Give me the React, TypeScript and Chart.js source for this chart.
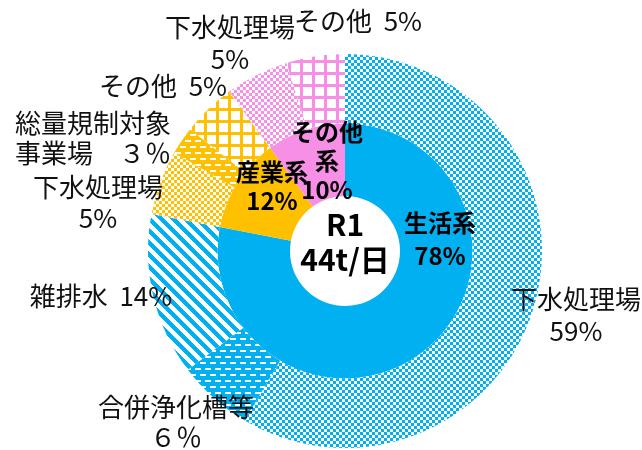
import { useEffect, useRef } from "react";
import { Chart, registerables } from "chart.js";

Chart.register(...registerables);

// ---- data ----
const innerCategories = ["生活系", "産業系", "その他系"];
const innerValues = [78, 12, 10];
const innerLabelLines = [["生活系", "78%"], ["産業系", "12%"], ["その他", "系", "10%"]];

const outerCategories = [
  "下水処理場",
  "合併浄化槽等",
  "雑排水",
  "下水処理場",
  "総量規制対象事業場",
  "その他",
  "下水処理場",
  "その他",
];
const outerValues = [58.5, 6.2, 13.3, 5.3, 2.3, 4.4, 5.2, 4.8];
const outerLabelLines = [
  ["下水処理場", "59%"],
  ["合併浄化槽等", "６％"],
  ["雑排水  14%"],
  ["下水処理場", "5%"],
  ["総量規制対象", "事業場　３％"],
  ["その他  5%"],
  ["下水処理場", "5%"],
  ["その他  5%"],
];
const centerLines = ["R1", "44t/日"];

// ---- layout / style ----
const BLUE = "#00B0F0";
const ORANGE = "#FFC000";
const PINK = "#F78FE6";
const FONT = "'Noto Sans CJK JP', 'Noto Sans', sans-serif";

// label anchor offsets relative to chart centre, plus line height
const outerLabelPos = [
  { dx: 231, dy: 48, lh: 32 },
  { dx: -169, dy: 156, lh: 30 },
  { dx: -244, dy: 45, lh: 30 },
  { dx: -247, dy: -64, lh: 31 },
  { dx: -252, dy: -128, lh: 30 },
  { dx: -182, dy: -165, lh: 30 },
  { dx: -115, dy: -224, lh: 32 },
  { dx: 13, dy: -230, lh: 30 },
];
const innerLabelPos = [
  { dx: 95, dy: -28, lh: 33 },
  { dx: -73, dy: -79, lh: 29 },
  { dx: -18, dy: -119, lh: 29 },
];
const centerPos = { dx: 0, dy: -26, lh: 35 };

function tile(w: number, h: number, draw: (c: CanvasRenderingContext2D) => void) {
  const cv = document.createElement("canvas");
  cv.width = w;
  cv.height = h;
  const c = cv.getContext("2d")!;
  draw(c);
  return c.createPattern(cv, "repeat")!;
}

function checker(color: string) {
  return tile(6, 6, (c) => {
    c.fillStyle = "#fff";
    c.fillRect(0, 0, 6, 6);
    c.fillStyle = color;
    c.fillRect(0, 0, 3, 3);
    c.fillRect(3, 3, 3, 3);
  });
}

function dashes(color: string) {
  return tile(10, 12, (c) => {
    c.fillStyle = color;
    c.fillRect(0, 0, 10, 12);
    c.fillStyle = "#fff";
    c.fillRect(0, 2, 6, 2);
    c.fillRect(5, 8, 5, 2);
    c.fillRect(0, 8, 1, 2);
  });
}

function stripes(color: string) {
  return tile(12, 12, (c) => {
    c.fillStyle = "#fff";
    c.fillRect(0, 0, 12, 12);
    c.fillStyle = color;
    for (let y = 0; y < 12; y++) {
      for (let x = 0; x < 12; x++) {
        if ((((x - y) % 12) + 12) % 12 < 6) c.fillRect(x, y, 1, 1);
      }
    }
  });
}

function grid(color: string) {
  return tile(12, 12, (c) => {
    c.fillStyle = "#fff";
    c.fillRect(0, 0, 12, 12);
    c.fillStyle = color;
    c.fillRect(0, 0, 3, 12);
    c.fillRect(0, 0, 12, 3);
  });
}

function drawLines(
  ctx: CanvasRenderingContext2D,
  lines: string[],
  x: number,
  y: number,
  lh: number
) {
  lines.forEach((t, i) => ctx.fillText(t, x, y + i * lh));
}

const labelPlugin = {
  id: "ringLabels",
  afterDatasetsDraw(chart: any) {
    const ctx: CanvasRenderingContext2D = chart.ctx;
    const arc = chart.getDatasetMeta(0).data[0];
    if (!arc) return;
    const cx = arc.x;
    const cy = arc.y;
    ctx.save();
    ctx.textAlign = "center";
    ctx.textBaseline = "middle";

    ctx.fillStyle = "#111";
    ctx.font = `400 26px ${FONT}`;
    outerLabelLines.forEach((lines, i) => {
      const p = outerLabelPos[i];
      drawLines(ctx, lines, cx + p.dx, cy + p.dy, p.lh);
    });

    ctx.fillStyle = "#000";
    ctx.font = `700 24px ${FONT}`;
    innerLabelLines.forEach((lines, i) => {
      const p = innerLabelPos[i];
      drawLines(ctx, lines, cx + p.dx, cy + p.dy, p.lh);
    });

    ctx.font = `700 30px ${FONT}`;
    drawLines(ctx, centerLines, cx + centerPos.dx, cy + centerPos.dy, centerPos.lh);
    ctx.restore();
  },
};

export default function App() {
  const ref = useRef<HTMLCanvasElement | null>(null);

  useEffect(() => {
    if (!ref.current) return;
    const outerFills = [
      checker(BLUE),
      dashes(BLUE),
      stripes(BLUE),
      checker(ORANGE),
      dashes(ORANGE),
      grid(ORANGE),
      checker(PINK),
      grid(PINK),
    ];
    const chart = new Chart(ref.current, {
      type: "doughnut",
      data: {
        labels: outerCategories,
        datasets: [
          {
            label: "内訳",
            data: outerValues,
            backgroundColor: outerFills as any,
            borderWidth: 0,
            weight: 70,
          } as any,
          {
            label: "系統",
            data: innerValues,
            backgroundColor: [BLUE, ORANGE, PINK],
            borderWidth: 0,
            weight: 73,
            labels: innerCategories,
          } as any,
        ],
      },
      options: {
        responsive: false,
        animation: false,
        cutout: 55,
        layout: { padding: { left: 147, right: 99, top: 54, bottom: 2 } },
        plugins: {
          legend: { display: false },
          tooltip: { enabled: false },
        },
      },
      plugins: [labelPlugin],
    });
    return () => chart.destroy();
  }, []);

  return (
    <div style={{ position: "fixed", left: 0, top: 0, width: 642, height: 450, background: "#fff" }}>
      <canvas ref={ref} width={642} height={450} style={{ display: "block" }} />
    </div>
  );
}
